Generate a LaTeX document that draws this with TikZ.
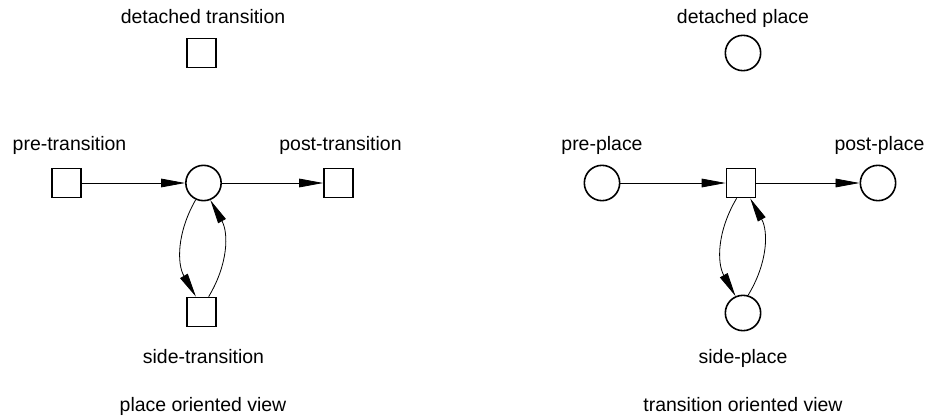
\documentclass[tikz,border=0pt]{standalone}
\usepackage{fontspec}
\setmainfont{Liberation Sans}
\usetikzlibrary{arrows.meta,positioning}
\tikzset{
  basic/.style      = {draw, line width=1.2pt, inner sep=0pt},
  place/.style      = {basic, circle, minimum size=26.5pt},
  transition/.style = {basic, rectangle, minimum size=21.8pt},
  lbl/.style        = {anchor=base, inner sep=0pt,
                       font=\fontsize{14.6}{17}\selectfont},
  arc/.style        = {-{Triangle[length=18pt,width=6.5pt]}, line width=0.6pt}
}

\begin{document}
\begin{tikzpicture}[x=0.75pt, y=-0.75pt]
	  \useasboundingbox (0,0) rectangle (925,418);

	  % place oriented view, left half
	  \node[transition] (dt) at (201.5,53) {};
	  \node[transition] (pre) at (66.5,183) {};
	  \node[place] (p) at (203.5,183) {};
	  \node[transition] (post) at (338.5,183) {};
	  \node[transition] (st) at (201.5,312) {};

	  \begin{scope}[every node/.style={lbl}]
	  \node (dtlbl) at (203,23) {detached transition};
	  \node (prelbl) at (69.5,150) {pre-transition};
	  \node (postlbl) at (340.5,150) {post-transition};
	  \node (stlbl) at (203.5,363) {side-transition};
	  \node (pview) at (203,411.5) {place oriented view};
	  \end{scope}

	  \draw[arc] (pre) -- (p);
	  \draw[arc] (p) -- (post);
	  \draw[arc] (p.245) to[bend right=30] (st.110);
	  \draw[arc] (st.65) to[bend right=30] (p.292);

	  % transition oriented view, right half
	  \node[place] (dp) at (743,53) {};
	  \node[place] (pp) at (602,183) {};
	  \node[transition] (t) at (741,183) {};
	  \node[place] (postp) at (878,183) {};
	  \node[place] (sp) at (743,313) {};

	  \begin{scope}[every node/.style={lbl}]
	  \node (dplbl) at (743,23) {detached place};
	  \node (pplbl) at (602,150) {pre-place};
	  \node (postplbl) at (879.5,150) {post-place};
	  \node (splbl) at (743,363) {side-place};
	  \node (tview) at (743,411.5) {transition oriented view};
	  \end{scope}

	  \draw[arc] (pp) -- (t);
	  \draw[arc] (t) -- (postp);
	  \draw[arc] (t.254) to[bend right=30] (sp.114);
	  \draw[arc] (sp.74) to[bend right=30] (t.301);

	  \end{tikzpicture}
\end{document}
